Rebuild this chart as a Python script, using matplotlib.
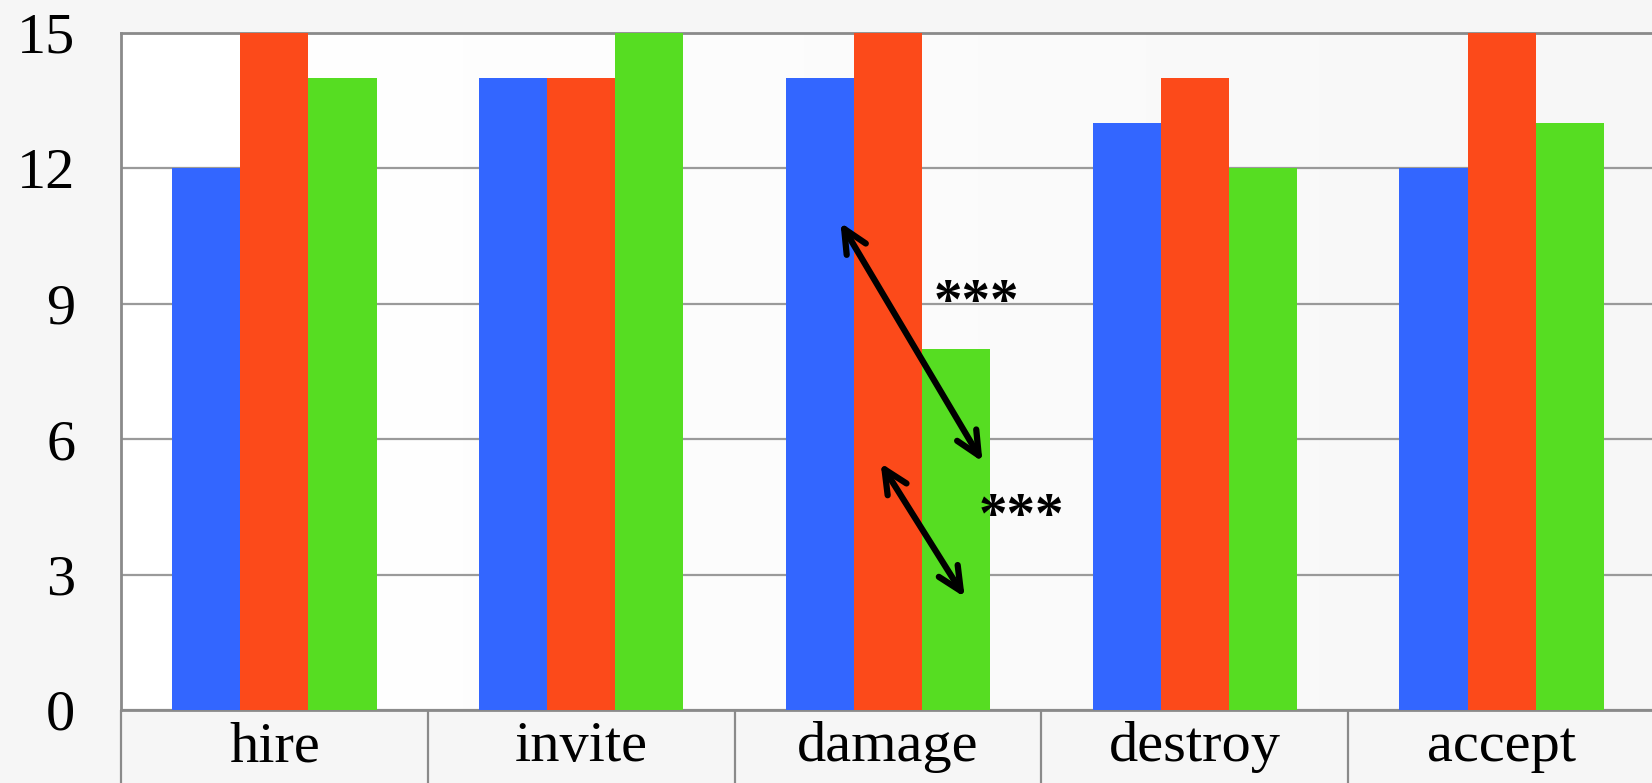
import matplotlib
matplotlib.use("Agg")
import matplotlib.pyplot as plt
import numpy as np

# ── Data ──────────────────────────────────────────────────────────────────────
categories = ["hire", "invite", "damage", "destroy", "accept"]
series_a = [12, 14, 14, 13, 12]   # blue
series_b = [15, 14, 15, 14, 15]   # red
series_c = [14, 15, 8, 12, 13]    # green
y_ticks = [0, 3, 6, 9, 12, 15]

# significance arrows (damage group): (x0, y0) -> (x1, y1) in data units
arrow_long = [(1.845, 10.8), (2.308, 5.5)]
arrow_short = [(1.976, 5.47), (2.25, 2.5)]
star_labels = [("***", 2.15, 9.0), ("***", 2.297, 4.25)]

# ── Style ─────────────────────────────────────────────────────────────────────
COLORS = ["#3366ff", "#fc4a1a", "#56dd22"]
GRID = "#9a9a9a"
SPINE = "#8a8a8a"
FONT = "Liberation Serif"
BAR_W = 0.222

fig = plt.figure(figsize=(16.52, 7.83), dpi=100)
fig.patch.set_facecolor("#f6f6f6")
ax = fig.add_axes([121 / 1652, 73 / 783, 1534 / 1652, 677 / 783])
ax.set_facecolor("white")

# soft horizontal gradient behind the plot area
grad = np.linspace(1.0, 0.965, 256).reshape(1, -1)
ax.imshow(grad, cmap="gray", vmin=0, vmax=1, aspect="auto",
          extent=(0, 1, 0, 1), transform=ax.transAxes, zorder=0)

x = np.arange(len(categories))
for i, (vals, col) in enumerate(zip([series_a, series_b, series_c], COLORS)):
    ax.bar(x + (i - 1) * BAR_W, vals, width=BAR_W, color=col, zorder=3,
           linewidth=0)

ax.set_xlim(-0.5, len(categories) - 0.5)
ax.set_ylim(0, 15)
ax.set_yticks(y_ticks)
ax.set_yticklabels([str(t) for t in y_ticks], fontsize=42, family=FONT)
ax.yaxis.grid(True, color=GRID, linewidth=1.6, zorder=1)
ax.tick_params(axis="y", length=0, pad=33)

# category labels, separators as long minor ticks
ax.set_xticks(x)
ax.set_xticklabels(categories, fontsize=42, family=FONT)
ax.set_xticks(np.arange(-0.5, len(categories), 1.0), minor=True)
ax.tick_params(axis="x", which="major", length=0, pad=8)
ax.tick_params(axis="x", which="minor", length=55, width=1.6, color=SPINE,
               direction="out")

for side in ["left", "bottom", "top"]:
    ax.spines[side].set_color(SPINE)
    ax.spines[side].set_linewidth(2)
ax.spines["right"].set_visible(False)

# annotations
for (p0, p1) in [arrow_long, arrow_short]:
    ax.annotate("", xy=p1, xytext=p0,
                arrowprops=dict(arrowstyle="<->,head_length=1.7,head_width=0.8",
                                color="black", lw=4.5, shrinkA=0, shrinkB=0,
                                capstyle="round", joinstyle="round"),
                zorder=5)
for txt, tx, ty in star_labels:
    ax.text(tx, ty, txt, fontsize=41, family=FONT, fontweight="bold",
            va="center", ha="left", zorder=5)

fig.savefig("out.png", dpi=100, facecolor=fig.get_facecolor())
